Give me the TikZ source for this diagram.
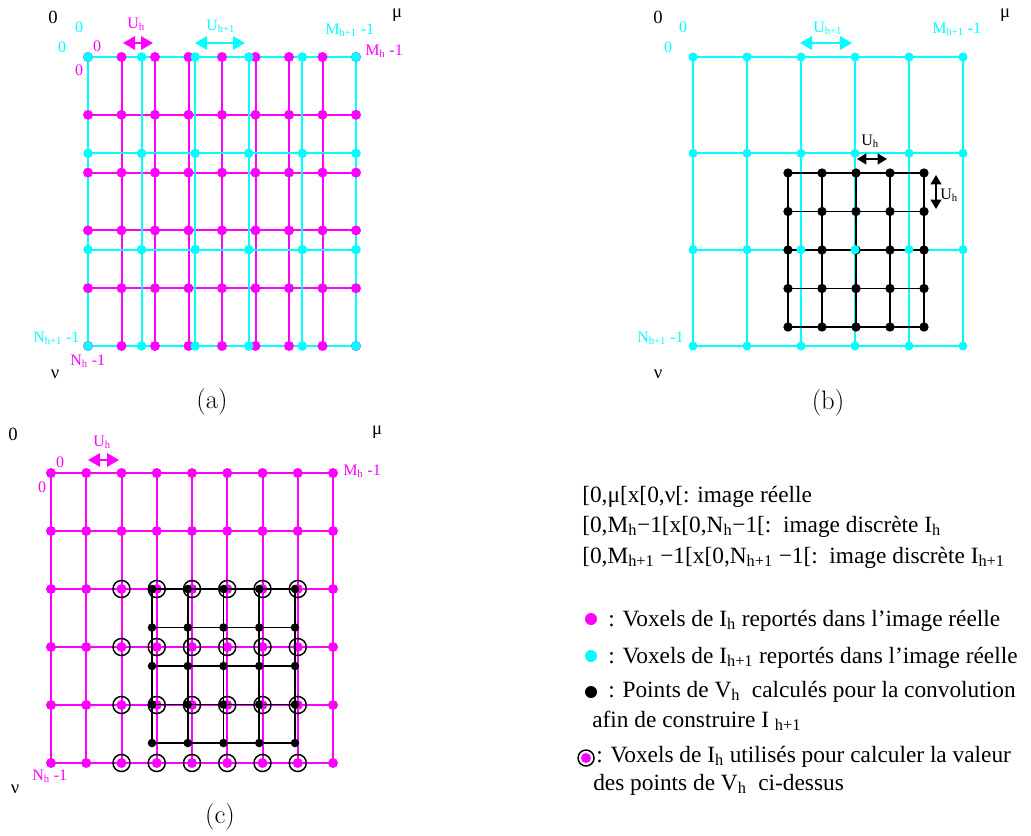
\documentclass[tikz,border=0pt]{standalone}
\usepackage{fontspec}
\newfontfamily\tms{Liberation Serif}
\usetikzlibrary{arrows.meta}
\definecolor{voxmag}{RGB}{255,0,255}
\definecolor{voxcyan}{RGB}{0,255,255}

\begin{document}
\begin{tikzpicture}[x=0.75pt,y=-0.75pt,
  mgline/.style={voxmag, line width=1.5pt},
  cyline/.style={voxcyan, line width=1.5pt},
  bkline/.style={black, line width=1.2pt},
  lbl/.style={font=\tms\fontsize{12}{14}\selectfont, inner sep=0pt},
  axl/.style={font=\tms\fontsize{14}{16}\selectfont, inner sep=0pt},
  panelcap/.style={font=\fontsize{20}{24}\selectfont, inner sep=0pt},
  leg/.style={font=\tms\fontsize{17.5}{20}\selectfont, inner sep=0pt, anchor=base west},
  dimarr/.style={line width=1.6pt, {Triangle[length=9pt,width=10pt]}-{Triangle[length=9pt,width=10pt]}},
  dimsm/.style={line width=1.3pt, {Triangle[length=7pt,width=8pt]}-{Triangle[length=7pt,width=8pt]}}]
\useasboundingbox (0,0) rectangle (1031,835);

% (a) both grids in the real image
\foreach \i in {0,...,8} \draw[mgline] ({88+33.5*\i},57) -- ({88+33.5*\i},346);
\foreach \j in {0,...,5} \draw[mgline] (88,{57+57.8*\j}) -- (356,{57+57.8*\j});
\foreach \i in {0,...,5} \draw[cyline] ({88+53.6*\i},57) -- ({88+53.6*\i},346);
\foreach \j in {0,...,3} \draw[cyline] (88,{57+96.33*\j}) -- (356,{57+96.33*\j});
\foreach \i in {0,...,8} \foreach \j in {0,...,5} \fill[voxmag] ({88+33.5*\i},{57+57.8*\j}) circle (3.75pt);
\foreach \i in {0,...,5} \foreach \j in {0,...,3} \fill[voxcyan] ({88+53.6*\i},{57+96.33*\j}) circle (3.6pt);
\node[axl] (aorig) at (53,17) {0};
\node[axl] (amu) at (397,15) {μ};
\node[axl] (anu) at (55,374) {ν};
\node[lbl, text=voxcyan] (acx) at (79,27) {0};
\node[lbl, text=voxcyan] (acy) at (62,47) {0};
\node[lbl, text=voxmag] (amx) at (97,46) {0};
\node[lbl, text=voxmag] (amy) at (79,70) {0};
\node[lbl, text=voxmag, anchor=base west] (auh) at (127,28) {U\textsubscript{h}};
\node[lbl, text=voxcyan, anchor=base west] (auhh) at (206,30) {U\textsubscript{h+1}};
\node[lbl, text=voxcyan, anchor=base west] (acm) at (325,34) {M\textsubscript{h+1} -1};
\node[lbl, text=voxmag, anchor=base west] (amm) at (365,55) {M\textsubscript{h} -1};
\node[lbl, text=voxcyan, anchor=base west] (acn) at (33,342) {N\textsubscript{h+1} -1};
\node[lbl, text=voxmag, anchor=base west] (amn) at (70,365) {N\textsubscript{h} -1};
\coordinate (auhl) at (123,43);
\coordinate (auhr) at (153,43);
\coordinate (auhhl) at (195,43);
\coordinate (auhhr) at (245,43);
\draw[dimarr, voxmag] (auhl) -- (auhr);
\draw[dimarr, voxcyan] (auhhl) -- (auhhr);
\node[panelcap] (capa) at (212,402) {(a)};

% (b) grid of I_h+1 and points of V_h
\foreach \i in {0,...,5} \draw[cyline] ({693+54*\i},57) -- ({693+54*\i},346);
\foreach \j in {0,...,3} \draw[cyline] (693,{57+96.33*\j}) -- (963,{57+96.33*\j});
\foreach \i in {0,...,4} \draw[bkline] ({788+34*\i},173) -- ({788+34*\i},327);
\foreach \j in {0,...,4} \draw[bkline] (788,{173+38.5*\j}) -- (924,{173+38.5*\j});
\foreach \i in {0,...,4} \foreach \j in {0,...,4} \fill ({788+34*\i},{173+38.5*\j}) circle (3.5pt);
\foreach \i in {0,...,5} \foreach \j in {0,...,3} \fill[voxcyan] ({693+54*\i},{57+96.33*\j}) circle (3.4pt);
\node[axl] (borig) at (658,17) {0};
\node[axl] (bmu) at (1005,15) {μ};
\node[axl] (bnu) at (658,374) {ν};
\node[lbl, text=voxcyan] (bcx) at (683,27) {0};
\node[lbl, text=voxcyan] (bcy) at (668,47) {0};
\node[lbl, text=voxcyan, anchor=base west] (buhh) at (813,32) {U\textsubscript{h+1}};
\node[lbl, text=voxcyan, anchor=base west] (bcm) at (932,33) {M\textsubscript{h+1} -1};
\node[lbl, text=voxcyan, anchor=base west] (bcn) at (637,342) {N\textsubscript{h+1} -1};
\node[lbl, anchor=base west] (buhx) at (861,145) {U\textsubscript{h}};
\node[lbl, anchor=base west] (buhy) at (940,199) {U\textsubscript{h}};
\coordinate (buhhl) at (800,43);
\coordinate (buhhr) at (852,43);
\coordinate (buhxl) at (857,159);
\coordinate (buhxr) at (887,159);
\coordinate (buhyt) at (936,175);
\coordinate (buhyb) at (936,209);
\draw[dimarr, voxcyan] (buhhl) -- (buhhr);
\draw[dimsm] (buhxl) -- (buhxr);
\draw[dimsm] (buhyt) -- (buhyb);
\node[panelcap] (capb) at (828,403) {(b)};

% (c) grid of I_h, points of V_h, voxels used
\foreach \i in {0,...,8} \draw[mgline] ({51+35.25*\i},473) -- ({51+35.25*\i},763);
\foreach \j in {0,...,5} \draw[mgline] (51,{473+58*\j}) -- (333,{473+58*\j});
\foreach \i in {0,...,8} \foreach \j in {0,...,5} \fill[voxmag] ({51+35.25*\i},{473+58*\j}) circle (3.75pt);
\foreach \i in {0,...,4} \draw[bkline] ({152+35.75*\i},589) -- ({152+35.75*\i},743);
\foreach \j in {0,...,4} \draw[bkline] (152,{589+38.5*\j}) -- (295,{589+38.5*\j});
\foreach \i in {0,...,4} \foreach \j in {0,...,4} \fill ({152+35.75*\i},{589+38.5*\j}) circle (3.2pt);
\foreach \i in {2,...,7} \foreach \j in {2,...,5} \draw[line width=1.1pt] ({51+35.25*\i},{473+58*\j}) circle (6.4pt);
\node[axl] (corig) at (13,434) {0};
\node[axl] (cmu) at (377,432) {μ};
\node[axl] (cnu) at (15,789) {ν};
\node[lbl, text=voxmag] (cmx) at (60,462) {0};
\node[lbl, text=voxmag] (cmy) at (42,487) {0};
\node[lbl, text=voxmag, anchor=base west] (cuh) at (93,446) {U\textsubscript{h}};
\node[lbl, text=voxmag, anchor=base west] (cmm) at (343,475) {M\textsubscript{h} -1};
\node[lbl, text=voxmag, anchor=base west] (cmn) at (32,780) {N\textsubscript{h} -1};
\coordinate (cuhl) at (88,460);
\coordinate (cuhr) at (119,460);
\draw[dimarr, voxmag] (cuhl) -- (cuhr);
\node[panelcap] (capc) at (220,817) {(c)};

% legend
\node[leg] (dom1) at (582,502) {[0,μ[x[0,ν[: image réelle};
\node[leg] (dom2) at (582,532) {[0,M\textsubscript{h}−1[x[0,N\textsubscript{h}−1[:\ \ image discrète I\textsubscript{h}};
\node[leg] (dom3) at (582,563) {[0,M\textsubscript{h+1} −1[x[0,N\textsubscript{h+1} −1[:\ \ image discrète I\textsubscript{h+1}};
\node[circle, fill=voxmag, inner sep=0pt, minimum size=9pt] (kmag) at (591,619) {};
\node[circle, fill=voxcyan, inner sep=0pt, minimum size=9pt] (kcyan) at (591,656) {};
\node[circle, fill=black, inner sep=0pt, minimum size=9pt] (kblack) at (591,692) {};
\node[circle, draw, line width=1.1pt, inner sep=0pt, minimum size=12pt] (kring) at (586,758) {};
\node[circle, fill=voxmag, inner sep=0pt, minimum size=7.5pt] (kringdot) at (kring) {};
\node[leg] (tmag) at (608,626) {: Voxels de I\textsubscript{h} reportés dans l’image réelle};
\node[leg] (tcyan) at (608,663) {: Voxels de I\textsubscript{h+1} reportés dans l’image réelle};
\node[leg] (tblack) at (608,697) {: Points de V\textsubscript{h}\ \ calculés pour la convolution};
\node[leg] (tblackb) at (592,727) {afin de construire I \textsubscript{h+1}};
\node[leg] (tring) at (596,762) {: Voxels de I\textsubscript{h} utilisés pour calculer la valeur};
\node[leg] (tringb) at (593,790) {des points de V\textsubscript{h}\ \ ci-dessus};
\end{tikzpicture}
\end{document}
